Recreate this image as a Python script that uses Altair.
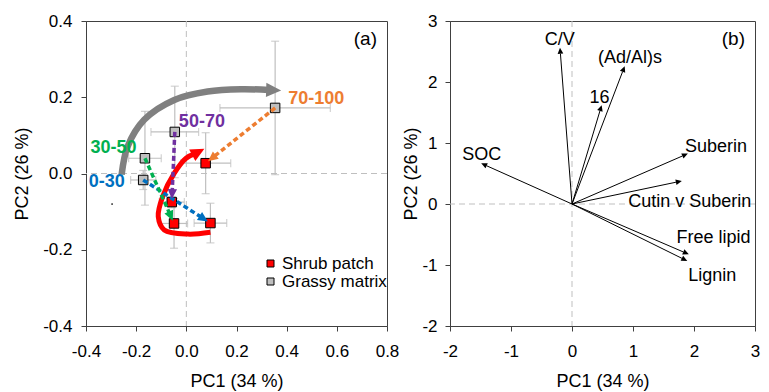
import math
import altair as alt
import pandas as pd

# ---------------- Panel (a) data ----------------
depths = ["0-30", "30-50", "50-70", "70-100"]
depth_colors = ["#0070C0", "#00B050", "#7030A0", "#ED7D31"]
grassy_x = [-0.172, -0.165, -0.046, 0.354]
grassy_y = [-0.017, 0.040, 0.109, 0.172]
grassy_xerr = [0.05, 0.065, 0.095, 0.22]
grassy_yerr = [0.025, 0.123, 0.12, 0.175]
shrub_x = [0.096, -0.049, -0.058, 0.077]
shrub_y = [-0.130, -0.131, -0.075, 0.027]
shrub_xerr = [0.065, 0.054, 0.05, 0.10]
shrub_yerr = [0.052, 0.065, 0.015, 0.08]
depth_label_x = [-0.317, -0.29, 0.062, 0.518]
depth_label_y = [-0.021, 0.067, 0.136, 0.196]

gray_curve_x = [-0.258, -0.234, -0.168, -0.048, 0.085, 0.218, 0.33]
gray_curve_y = [-0.003, 0.071, 0.141, 0.193, 0.215, 0.221, 0.219]
gray_tip = (0.378, 0.218)
red_curve_x = [0.096, 0.006, -0.088, -0.112, -0.094, -0.048, -0.001, 0.035]
red_curve_y = [-0.154, -0.159, -0.148, -0.113, -0.060, 0.001, 0.040, 0.052]
red_tip = (0.072, 0.065)
stray_dot = (-0.296, -0.08)

groups = ["Shrub patch", "Grassy matrix"]
group_colors = ["#FF0000", "#BFBFBF"]

# ---------------- Panel (b) data ----------------
var_names = ["C/V", "(Ad/Al)s", "16", "Suberin", "Cutin v Suberin", "Free lipid", "Lignin", "SOC"]
load_x = [-0.197, 0.864, 0.486, 1.90, 1.80, 1.915, 1.89, -1.489]
load_y = [2.56, 2.26, 1.62, 0.826, 0.377, -0.825, -0.934, 0.667]
var_label_x = [-0.2, 0.95, 0.45, 2.36, 1.93, 2.32, 2.30, -1.48]
var_label_y = [2.69, 2.39, 1.73, 0.93, 0.04, -0.55, -1.18, 0.80]

# ---------------- layout constants ----------------
FONT = "Liberation Sans"
WA, HA = 301, 305
WB, HB = 305, 305
XA_DOM, YA_DOM = [-0.4, 0.8], [-0.4, 0.4]
XB_DOM, YB_DOM = [-2, 3], [-2, 3]
pxa = (WA / (XA_DOM[1] - XA_DOM[0]), HA / (YA_DOM[1] - YA_DOM[0]))
pxb = (WB / (XB_DOM[1] - XB_DOM[0]), HB / (YB_DOM[1] - YB_DOM[0]))

HEAD = "M0,0L-0.9,1.9L0.9,1.9Z"
MINUS = "\u2212"


def angle_of(x0, y0, x1, y1, px):
    dx = (x1 - x0) * px[0]
    dy = (y1 - y0) * px[1]
    return math.degrees(math.atan2(dx, dy)) % 360


def shorten(x0, y0, x1, y1, px, d):
    dx = (x1 - x0) * px[0]
    dy = (y1 - y0) * px[1]
    L = math.hypot(dx, dy)
    f = (L - d) / L
    return x0 + (x1 - x0) * f, y0 + (y1 - y0) * f


def enc(dom, vals, fmt, title, **kw):
    return dict(scale=alt.Scale(domain=dom, nice=False, zero=False),
                axis=alt.Axis(values=vals, title=title, labelOverlap=False, labelFlush=False,
                              labelExpr=f"replace(format(datum.value, '{fmt}'), '{MINUS}', '-')",
                              **kw))


XA = enc(XA_DOM, [-0.4, -0.2, 0, 0.2, 0.4, 0.6, 0.8], ".1f", "PC1 (34 %)")
YA = enc(YA_DOM, [-0.4, -0.2, 0, 0.2, 0.4], ".1f", "PC2 (26 %)", labelPadding=9, titlePadding=11)
XB = enc(XB_DOM, [-2, -1, 0, 1, 2, 3], "d", "PC1 (34 %)")
YB = enc(YB_DOM, [-2, -1, 0, 1, 2, 3], "d", "PC2 (26 %)", labelPadding=8, titlePadding=1)

# ---------------- Panel (a) ----------------
pts = pd.DataFrame({
    "x": grassy_x + shrub_x,
    "y": grassy_y + shrub_y,
    "xerr": grassy_xerr + shrub_xerr,
    "yerr": grassy_yerr + shrub_yerr,
    "group": ["Grassy matrix"] * 4 + ["Shrub patch"] * 4,
})
pts["xlo"] = pts.x - pts.xerr
pts["xhi"] = pts.x + pts.xerr
pts["ylo"] = pts.y - pts.yerr
pts["yhi"] = pts.y + pts.yerr
bar_col = "#BFBFBF"

base_a = alt.Chart(pts)
hbar = base_a.mark_rule(color=bar_col, strokeWidth=1.2).encode(
    x=alt.X("xlo:Q", **XA), x2="xhi:Q", y=alt.Y("y:Q", **YA))
vbar = base_a.mark_rule(color=bar_col, strokeWidth=1.2).encode(
    x=alt.X("x:Q", **XA), y=alt.Y("ylo:Q", **YA), y2="yhi:Q")
cap_l = base_a.mark_tick(color=bar_col, orient="vertical", size=8, thickness=1.2).encode(
    x=alt.X("xlo:Q", **XA), y=alt.Y("y:Q", **YA))
cap_r = base_a.mark_tick(color=bar_col, orient="vertical", size=8, thickness=1.2).encode(
    x=alt.X("xhi:Q", **XA), y=alt.Y("y:Q", **YA))
cap_b = base_a.mark_tick(color=bar_col, orient="horizontal", size=8, thickness=1.2).encode(
    x=alt.X("x:Q", **XA), y=alt.Y("ylo:Q", **YA))
cap_t = base_a.mark_tick(color=bar_col, orient="horizontal", size=8, thickness=1.2).encode(
    x=alt.X("x:Q", **XA), y=alt.Y("yhi:Q", **YA))

zero_a = pd.DataFrame({"v": [0.0]})
zx_a = alt.Chart(zero_a).mark_rule(color="#BFBFBF", strokeDash=[6, 4], strokeWidth=1).encode(
    x=alt.X("v:Q", **XA))
zy_a = alt.Chart(zero_a).mark_rule(color="#BFBFBF", strokeDash=[6, 4], strokeWidth=1).encode(
    y=alt.Y("v:Q", **YA))


def curve_layer(xs, ys, tip, color, width, head_size):
    df = pd.DataFrame({"x": xs, "y": ys, "o": list(range(len(xs)))})
    line = alt.Chart(df).mark_line(color=color, strokeWidth=width, interpolate="catmull-rom",
                                   strokeCap="butt").encode(
        x=alt.X("x:Q", **XA), y=alt.Y("y:Q", **YA), order="o:Q")
    ang = angle_of(xs[-1], ys[-1], tip[0], tip[1], pxa)
    hd = pd.DataFrame({"x": [tip[0]], "y": [tip[1]], "a": [ang]})
    head = alt.Chart(hd).mark_point(shape=HEAD, filled=True, color=color, opacity=1,
                                    size=head_size, strokeWidth=0).encode(
        x=alt.X("x:Q", **XA), y=alt.Y("y:Q", **YA), angle=alt.Angle("a:Q", scale=None))
    return [line, head]


gray_layers = curve_layer(gray_curve_x, gray_curve_y, gray_tip, "#808080", 6.5, 250)
red_layers = curve_layer(red_curve_x, red_curve_y, red_tip, "#FF0000", 5, 210)

rows, heads = [], []
for i, d in enumerate(depths):
    x0, y0, x1, y1 = grassy_x[i], grassy_y[i], shrub_x[i], shrub_y[i]
    tx, ty = shorten(x0, y0, x1, y1, pxa, 3)
    bx, by = shorten(x0, y0, x1, y1, pxa, 12)
    rows.append({"d": d, "x": x0, "y": y0, "x2": bx, "y2": by})
    heads.append({"d": d, "x": tx, "y": ty, "a": angle_of(x0, y0, x1, y1, pxa)})
dash_df = pd.DataFrame(rows)
head_df = pd.DataFrame(heads)
dcol = alt.Color("d:N", scale=alt.Scale(domain=depths, range=depth_colors), legend=None)
dash = alt.Chart(dash_df).mark_rule(strokeWidth=3.5, strokeDash=[5, 3]).encode(
    x=alt.X("x:Q", **XA), y=alt.Y("y:Q", **YA), x2="x2:Q", y2="y2:Q", color=dcol)
dhead = alt.Chart(head_df).mark_point(shape=HEAD, filled=True, opacity=1, size=110,
                                      strokeWidth=0).encode(
    x=alt.X("x:Q", **XA), y=alt.Y("y:Q", **YA), color=dcol,
    angle=alt.Angle("a:Q", scale=None))

squares = base_a.mark_point(shape="square", filled=True, size=90, stroke="black",
                            strokeWidth=1, opacity=1).encode(
    x=alt.X("x:Q", **XA), y=alt.Y("y:Q", **YA),
    fill=alt.Fill("group:N", scale=alt.Scale(domain=groups, range=group_colors),
                  legend=alt.Legend(orient="none", legendX=176, legendY=234, title=None,
                                    symbolType="square", symbolSize=49,
                                    symbolStrokeColor="black", symbolStrokeWidth=1,
                                    labelFontSize=17, labelFont=FONT, labelColor="black",
                                    labelOffset=3, rowPadding=0, padding=0)))

dlab_df = pd.DataFrame({"d": depths, "x": depth_label_x, "y": depth_label_y})
dlab = alt.Chart(dlab_df).mark_text(fontSize=18, fontWeight="bold", font=FONT,
                                    align="center", baseline="middle").encode(
    x=alt.X("x:Q", **XA), y=alt.Y("y:Q", **YA), text="d:N", color=dcol)

dot = alt.Chart(pd.DataFrame({"x": [stray_dot[0]], "y": [stray_dot[1]]})).mark_point(
    filled=True, color="black", size=3, opacity=1).encode(
    x=alt.X("x:Q", **XA), y=alt.Y("y:Q", **YA))

tag_a = alt.Chart(pd.DataFrame({"t": ["(a)"]})).mark_text(
    fontSize=19, font=FONT, align="right", baseline="top", color="black").encode(
    x=alt.value(WA - 10), y=alt.value(9), text="t:N")

left = alt.layer(zx_a, zy_a, hbar, vbar, cap_l, cap_r, cap_b, cap_t,
                 *gray_layers, *red_layers, squares, dash, dhead, dlab, dot, tag_a
                 ).properties(width=WA, height=HA)

# ---------------- Panel (b) ----------------
zero_b = pd.DataFrame({"v": [0.0]})
zx_b = alt.Chart(zero_b).mark_rule(color="#BFBFBF", strokeDash=[6, 4], strokeWidth=1).encode(
    x=alt.X("v:Q", **XB))
zy_b = alt.Chart(zero_b).mark_rule(color="#BFBFBF", strokeDash=[6, 4], strokeWidth=1).encode(
    y=alt.Y("v:Q", **YB))

lrows, lheads = [], []
for n, lx, ly in zip(var_names, load_x, load_y):
    bx, by = shorten(0, 0, lx, ly, pxb, 6)
    lrows.append({"n": n, "x": 0.0, "y": 0.0, "x2": bx, "y2": by})
    lheads.append({"n": n, "x": lx, "y": ly, "a": angle_of(0, 0, lx, ly, pxb)})
ldf = pd.DataFrame(lrows)
lhd = pd.DataFrame(lheads)
vec = alt.Chart(ldf).mark_rule(color="black", strokeWidth=1).encode(
    x=alt.X("x:Q", **XB), y=alt.Y("y:Q", **YB), x2="x2:Q", y2="y2:Q")
vhead = alt.Chart(lhd).mark_point(shape=HEAD, filled=True, color="black", opacity=1,
                                  size=40, strokeWidth=0).encode(
    x=alt.X("x:Q", **XB), y=alt.Y("y:Q", **YB), angle=alt.Angle("a:Q", scale=None))
vlab_df = pd.DataFrame({"n": var_names, "x": var_label_x, "y": var_label_y})
vlab = alt.Chart(vlab_df).mark_text(fontSize=18, font=FONT, align="center",
                                    baseline="middle", color="black").encode(
    x=alt.X("x:Q", **XB), y=alt.Y("y:Q", **YB), text="n:N")
tag_b = alt.Chart(pd.DataFrame({"t": ["(b)"]})).mark_text(
    fontSize=19, font=FONT, align="right", baseline="top", color="black").encode(
    x=alt.value(WB - 10), y=alt.value(9), text="t:N")

right = alt.layer(zx_b, zy_b, vec, vhead, vlab, tag_b).properties(width=WB, height=HB)

chart = alt.hconcat(left, right, spacing=2).resolve_scale(
    x="independent", y="independent", color="independent", fill="independent"
).configure(font=FONT, padding={"left": 5, "top": 3, "right": 0, "bottom": 0}
).configure_view(stroke="#404040", strokeWidth=1
).configure_axis(grid=False, domainColor="#404040", tickColor="#404040", tickSize=5,
                 labelFont=FONT, labelFontSize=17, labelColor="black", labelPadding=3,
                 titleFont=FONT, titleFontSize=18, titleFontWeight="normal",
                 titleColor="black", titlePadding=8
).configure_axisX(labelPadding=12, titlePadding=13)

chart.save("out.html", embed_options={"renderer": "svg", "actions": False})
